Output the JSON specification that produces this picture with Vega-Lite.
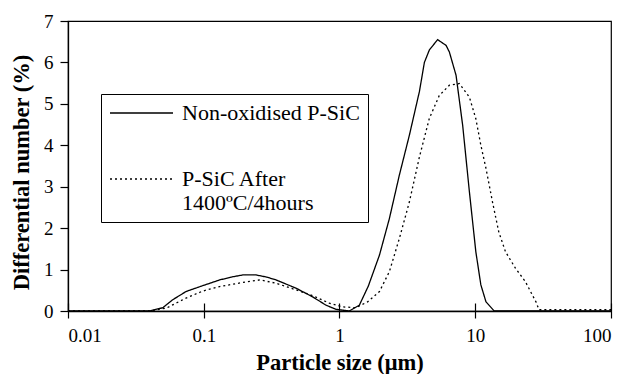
{
  "$schema": "https://vega.github.io/schema/vega-lite/v6.json",
  "width": 543,
  "height": 290,
  "autosize": "none",
  "padding": {"left": 68, "top": 21, "right": 16, "bottom": 63},
  "background": "white",
  "config": {
    "font": "Liberation Serif",
    "view": {"stroke": "black", "strokeWidth": 1.2},
    "axis": {
      "grid": false,
      "domainColor": "black",
      "domainWidth": 1.3,
      "tickColor": "black",
      "tickWidth": 1.2,
      "labelColor": "black",
      "labelFont": "Liberation Serif",
      "labelFontSize": 19,
      "titleFont": "Liberation Serif",
      "titleFontSize": 22.5,
      "titleFontWeight": "bold",
      "titleColor": "black"
    }
  },
  "data": {
    "values": [
      {"size": 0.01, "value": 0, "series": "Non-oxidised P-SiC"},
      {"size": 0.04, "value": 0, "series": "Non-oxidised P-SiC"},
      {"size": 0.05, "value": 0.08, "series": "Non-oxidised P-SiC"},
      {"size": 0.059, "value": 0.27, "series": "Non-oxidised P-SiC"},
      {"size": 0.074, "value": 0.47, "series": "Non-oxidised P-SiC"},
      {"size": 0.098, "value": 0.61, "series": "Non-oxidised P-SiC"},
      {"size": 0.131, "value": 0.75, "series": "Non-oxidised P-SiC"},
      {"size": 0.16, "value": 0.82, "series": "Non-oxidised P-SiC"},
      {"size": 0.194, "value": 0.87, "series": "Non-oxidised P-SiC"},
      {"size": 0.243, "value": 0.87, "series": "Non-oxidised P-SiC"},
      {"size": 0.29, "value": 0.82, "series": "Non-oxidised P-SiC"},
      {"size": 0.341, "value": 0.75, "series": "Non-oxidised P-SiC"},
      {"size": 0.479, "value": 0.55, "series": "Non-oxidised P-SiC"},
      {"size": 0.635, "value": 0.34, "series": "Non-oxidised P-SiC"},
      {"size": 0.796, "value": 0.14, "series": "Non-oxidised P-SiC"},
      {"size": 0.944, "value": 0.04, "series": "Non-oxidised P-SiC"},
      {"size": 1.18, "value": 0, "series": "Non-oxidised P-SiC"},
      {"size": 1.4, "value": 0.14, "series": "Non-oxidised P-SiC"},
      {"size": 1.63, "value": 0.6, "series": "Non-oxidised P-SiC"},
      {"size": 1.97, "value": 1.35, "series": "Non-oxidised P-SiC"},
      {"size": 2.33, "value": 2.23, "series": "Non-oxidised P-SiC"},
      {"size": 2.76, "value": 3.28, "series": "Non-oxidised P-SiC"},
      {"size": 3.27, "value": 4.24, "series": "Non-oxidised P-SiC"},
      {"size": 3.88, "value": 5.3, "series": "Non-oxidised P-SiC"},
      {"size": 4.22, "value": 6.0, "series": "Non-oxidised P-SiC"},
      {"size": 4.59, "value": 6.3, "series": "Non-oxidised P-SiC"},
      {"size": 5.28, "value": 6.55, "series": "Non-oxidised P-SiC"},
      {"size": 6.1, "value": 6.41, "series": "Non-oxidised P-SiC"},
      {"size": 6.45, "value": 6.25, "series": "Non-oxidised P-SiC"},
      {"size": 7.22, "value": 5.69, "series": "Non-oxidised P-SiC"},
      {"size": 8.08, "value": 4.48, "series": "Non-oxidised P-SiC"},
      {"size": 9.06, "value": 2.87, "series": "Non-oxidised P-SiC"},
      {"size": 10.1, "value": 1.43, "series": "Non-oxidised P-SiC"},
      {"size": 11.0, "value": 0.63, "series": "Non-oxidised P-SiC"},
      {"size": 12.0, "value": 0.22, "series": "Non-oxidised P-SiC"},
      {"size": 13.8, "value": 0, "series": "Non-oxidised P-SiC"},
      {"size": 100, "value": 0, "series": "Non-oxidised P-SiC"},
      {"size": 0.01, "value": 0, "series": "P-SiC After 1400ºC/4hours"},
      {"size": 0.04, "value": 0, "series": "P-SiC After 1400ºC/4hours"},
      {"size": 0.053, "value": 0.07, "series": "P-SiC After 1400ºC/4hours"},
      {"size": 0.074, "value": 0.31, "series": "P-SiC After 1400ºC/4hours"},
      {"size": 0.098, "value": 0.48, "series": "P-SiC After 1400ºC/4hours"},
      {"size": 0.131, "value": 0.59, "series": "P-SiC After 1400ºC/4hours"},
      {"size": 0.194, "value": 0.69, "series": "P-SiC After 1400ºC/4hours"},
      {"size": 0.26, "value": 0.75, "series": "P-SiC After 1400ºC/4hours"},
      {"size": 0.341, "value": 0.67, "series": "P-SiC After 1400ºC/4hours"},
      {"size": 0.479, "value": 0.51, "series": "P-SiC After 1400ºC/4hours"},
      {"size": 0.635, "value": 0.37, "series": "P-SiC After 1400ºC/4hours"},
      {"size": 0.84, "value": 0.19, "series": "P-SiC After 1400ºC/4hours"},
      {"size": 1.05, "value": 0.1, "series": "P-SiC After 1400ºC/4hours"},
      {"size": 1.32, "value": 0.08, "series": "P-SiC After 1400ºC/4hours"},
      {"size": 1.61, "value": 0.22, "series": "P-SiC After 1400ºC/4hours"},
      {"size": 1.97, "value": 0.47, "series": "P-SiC After 1400ºC/4hours"},
      {"size": 2.33, "value": 0.95, "series": "P-SiC After 1400ºC/4hours"},
      {"size": 2.76, "value": 1.75, "series": "P-SiC After 1400ºC/4hours"},
      {"size": 3.27, "value": 2.63, "series": "P-SiC After 1400ºC/4hours"},
      {"size": 3.88, "value": 3.72, "series": "P-SiC After 1400ºC/4hours"},
      {"size": 4.59, "value": 4.65, "series": "P-SiC After 1400ºC/4hours"},
      {"size": 5.43, "value": 5.2, "series": "P-SiC After 1400ºC/4hours"},
      {"size": 6.45, "value": 5.45, "series": "P-SiC After 1400ºC/4hours"},
      {"size": 7.64, "value": 5.49, "series": "P-SiC After 1400ºC/4hours"},
      {"size": 9.06, "value": 5.16, "series": "P-SiC After 1400ºC/4hours"},
      {"size": 10.1, "value": 4.64, "series": "P-SiC After 1400ºC/4hours"},
      {"size": 11.0, "value": 4.0, "series": "P-SiC After 1400ºC/4hours"},
      {"size": 12.0, "value": 3.44, "series": "P-SiC After 1400ºC/4hours"},
      {"size": 13.4, "value": 2.63, "series": "P-SiC After 1400ºC/4hours"},
      {"size": 14.9, "value": 1.91, "series": "P-SiC After 1400ºC/4hours"},
      {"size": 16.7, "value": 1.43, "series": "P-SiC After 1400ºC/4hours"},
      {"size": 19.8, "value": 1.03, "series": "P-SiC After 1400ºC/4hours"},
      {"size": 23.4, "value": 0.71, "series": "P-SiC After 1400ºC/4hours"},
      {"size": 28.0, "value": 0.22, "series": "P-SiC After 1400ºC/4hours"},
      {"size": 29.5, "value": 0.03, "series": "P-SiC After 1400ºC/4hours"},
      {"size": 100, "value": 0.03, "series": "P-SiC After 1400ºC/4hours"}
    ]
  },
  "layer": [
    {
      "mark": {"type": "line", "color": "black", "strokeWidth": 1.3},
      "encoding": {
        "x": {
          "field": "size",
          "type": "quantitative",
          "scale": {"type": "log", "domain": [0.01, 100]},
          "axis": {
            "values": [0.01, 0.1, 1, 10, 100],
            "format": "~g",
            "title": "Particle size (μm)",
            "tickSize": 7,
            "labelPadding": 8,
            "titlePadding": 6
          }
        },
        "y": {
          "field": "value",
          "type": "quantitative",
          "scale": {"domain": [0, 7], "nice": false},
          "axis": {
            "values": [0, 1, 2, 3, 4, 5, 6, 7],
            "title": "Differential number (%)",
            "tickSize": 8,
            "labelPadding": 7,
            "titlePadding": 10,
            "titleY": 151
          }
        },
        "strokeDash": {
          "field": "series",
          "type": "nominal",
          "sort": ["Non-oxidised P-SiC", "P-SiC After 1400ºC/4hours"],
          "scale": {
            "domain": ["Non-oxidised P-SiC", "P-SiC After 1400ºC/4hours"],
            "range": [[1, 0], [2, 3]]
          },
          "legend": {
            "orient": "none",
            "legendX": 33,
            "legendY": 73,
            "title": null,
            "strokeColor": "black",
            "fillColor": "white",
            "padding": 8,
            "symbolType": "M-1,0H5.3",
            "symbolSize": 400,
            "symbolStrokeWidth": 1.3,
            "symbolStrokeColor": "black",
            "labelFont": "Liberation Serif",
            "labelFontSize": 22,
            "labelColor": "black",
            "labelOffset": 51,
            "labelLimit": 400,
            "rowPadding": 44,
            "labelExpr": "datum.label == 'P-SiC After 1400ºC/4hours' ? ['P-SiC After', '1400ºC/4hours'] : datum.label"
          }
        }
      }
    },
    {
      "mark": {"type": "line", "opacity": 0},
      "encoding": {
        "x": {
          "field": "size",
          "type": "quantitative",
          "axis": {
            "orient": "bottom",
            "values": [0.01, 0.1, 1, 10, 100],
            "labels": false,
            "domain": false,
            "tickSize": -8,
            "title": null
          }
        },
        "y": {"field": "value", "type": "quantitative"},
        "detail": {"field": "series"}
      }
    }
  ],
  "resolve": {"axis": {"x": "independent"}}
}
